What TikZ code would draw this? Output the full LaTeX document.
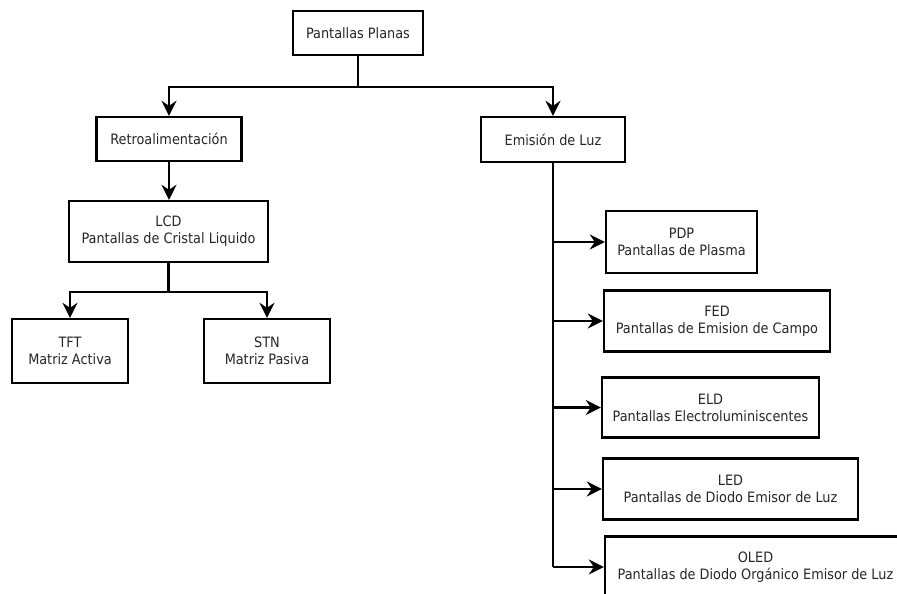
\documentclass[tikz,border=0pt]{standalone}
\usepackage{fontspec}
\setmainfont{DejaVu Sans Condensed}
\usetikzlibrary{arrows.meta}
\begin{document}
\begin{tikzpicture}[x=1pt,y=-1pt,
  box/.style={draw=black,line width=2.4pt,fill=white,align=center,inner sep=0pt,
    font=\fontsize{14.3}{17}\selectfont,text=black!85},
  conn/.style={line width=2.4pt,draw=black},
  arr/.style={conn,-{Stealth[length=15pt,width=15pt,inset=5pt]}}]
\useasboundingbox (0,0) rectangle (897,594);
\node[box,minimum width=130pt,minimum height=44pt] (pp) at (358,33) {Pantallas Planas};
\node[box,minimum width=145pt,minimum height=44pt] (retro) at (169,139) {Retroalimentación};
\node[box,minimum width=144pt,minimum height=45pt] (emis) at (553,139.5) {Emisión de Luz};
\node[box,minimum width=199pt,minimum height=61pt] (lcd) at (168.5,231.5) {LCD\\Pantallas de Cristal Liquido};
\node[box,minimum width=116pt,minimum height=64pt] (tft) at (70,351) {TFT\\Matriz Activa};
\node[box,minimum width=126pt,minimum height=64pt] (stn) at (267,351) {STN\\Matriz Pasiva};
\node[box,minimum width=151pt,minimum height=62pt] (pdp) at (681.5,242) {PDP\\Pantallas de Plasma};
\node[box,minimum width=226pt,minimum height=61pt] (fed) at (717,321) {FED\\Pantallas de Emision de Campo};
\node[box,minimum width=217pt,minimum height=60pt] (eld) at (710.5,407.5) {ELD\\Pantallas Electroluminiscentes};
\node[box,minimum width=255pt,minimum height=61pt] (led) at (730.5,489) {LED\\Pantallas de Diodo Emisor de Luz};
\node[box,minimum width=301pt,minimum height=61pt] (oled) at (755.5,567) {OLED\\Pantallas de Diodo Orgánico Emisor de Luz};
\coordinate (j1) at (358,87);
\coordinate (j2) at (168.5,292);
% top split
\draw[conn] (pp.south) -- (j1);
\draw[arr] (j1) -| (retro.north);
\draw[arr] (j1) -| (emis.north);
% left branch
\draw[arr] (retro.south) -- (retro.south |- lcd.north);
\draw[conn] (lcd.south) -- (j2);
\draw[arr] (j2) -| (tft.north);
\draw[arr] (j2) -| (stn.north);
% right trunk
\draw[conn] (emis.south) -- (emis.south |- oled.west);
\draw[arr] (emis.south |- pdp.west) -- (pdp.west);
\draw[arr] (emis.south |- fed.west) -- (fed.west);
\draw[arr] (emis.south |- eld.west) -- (eld.west);
\draw[arr] (emis.south |- led.west) -- (led.west);
\draw[arr] (emis.south |- oled.west) -- (oled.west);
\end{tikzpicture}
\end{document}
